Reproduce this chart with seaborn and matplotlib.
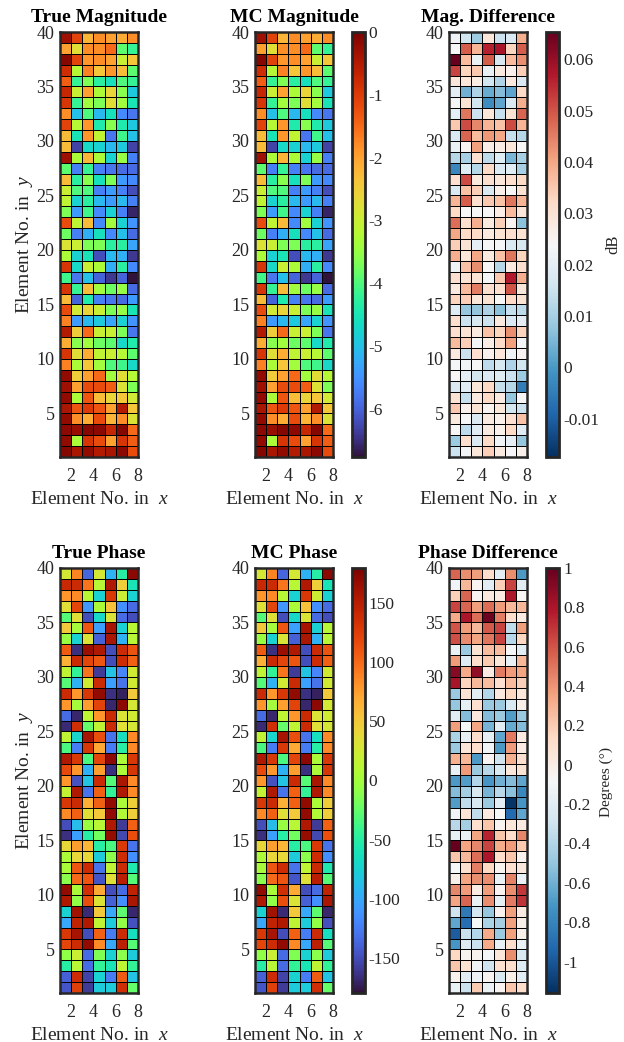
#%% import
import pandas as pd
import matplotlib
matplotlib.use('Agg')
import matplotlib.pyplot as plt
import seaborn as sns

#%% values, rows go from the top of the panel down
true_mag = [
    [-0.3, -1.1, -2.2, -1.8, -2.0, -2.1, -1.8],
    [-2.0, -2.7, -1.8, -1.8, -1.5, -3.9, -4.2],
    [-0.1, -1.1, -1.9, -1.8, -2.0, -3.0, -2.4],
    [-0.8, -3.2, -1.7, -2.4, -1.9, -2.3, -3.9],
    [-1.4, -4.2, -3.7, -4.3, -4.6, -4.0, -4.2],
    [-0.7, -3.0, -2.0, -3.3, -2.6, -3.6, -4.9],
    [-0.9, -4.2, -3.4, -3.7, -2.7, -3.4, -4.5],
    [-1.8, -5.0, -4.0, -5.1, -4.6, -5.6, -5.8],
    [-1.1, -3.2, -1.9, -4.4, -3.6, -4.4, -4.9],
    [-2.3, -4.5, -1.9, -3.1, -5.8, -4.1, -5.0],
    [-2.3, -6.3, -4.7, -4.8, -5.1, -4.9, -6.3],
    [-0.3, -3.3, -2.2, -3.3, -4.8, -3.5, -5.7],
    [-3.9, -5.7, -4.2, -5.7, -5.8, -5.9, -5.9],
    [-2.3, -4.3, -3.6, -4.6, -3.7, -5.4, -5.6],
    [-3.0, -4.0, -4.0, -5.7, -5.4, -5.7, -6.2],
    [-3.1, -4.8, -4.3, -5.1, -5.4, -5.1, -5.7],
    [-3.7, -5.4, -4.1, -5.6, -4.8, -5.7, -6.6],
    [-1.2, -3.1, -2.3, -5.6, -3.4, -4.8, -5.5],
    [-3.8, -5.7, -5.2, -4.6, -5.6, -5.0, -5.9],
    [-2.8, -3.0, -3.7, -3.7, -4.3, -4.3, -5.3],
    [-3.3, -4.8, -4.5, -6.2, -5.1, -5.2, -6.4],
    [-0.9, -4.7, -3.0, -3.3, -5.2, -4.3, -5.6],
    [-4.1, -5.8, -5.0, -6.0, -6.4, -6.0, -6.75],
    [-0.9, -4.2, -2.3, -3.4, -3.8, -3.5, -5.9],
    [-2.3, -6.0, -4.4, -5.7, -5.8, -5.9, -5.4],
    [-1.2, -2.9, -2.6, -3.0, -3.7, -3.5, -4.5],
    [-1.7, -5.4, -5.1, -4.9, -5.3, -4.8, -5.5],
    [-0.5, -2.5, -1.5, -3.0, -3.0, -3.7, -5.8],
    [-2.1, -3.6, -3.4, -3.8, -3.9, -4.7, -4.4],
    [-0.9, -2.7, -2.1, -3.1, -3.0, -3.2, -3.9],
    [-1.7, -3.3, -2.4, -3.4, -4.0, -4.1, -4.7],
    [-0.2, -2.5, -2.0, -1.5, -3.4, -2.7, -3.2],
    [-0.3, -2.0, -1.2, -1.2, -1.4, -2.8, -3.7],
    [-0.2, -3.3, -1.3, -2.3, -2.6, -2.4, -2.9],
    [-0.4, -1.3, -1.0, -1.3, -2.0, -0.5, -2.4],
    [-0.2, -1.8, -2.1, -1.2, -2.2, -1.8, -2.8],
    [-0.15, -0.25, -0.1, -0.15, -0.7, -0.1, -1.5],
    [-0.2, -3.3, -0.9, -1.2, -2.0, -0.9, -1.4],
    [-0.1, -0.4, -0.2, -0.5, -0.4, -0.15, -1.2],
]

# MC panels can't be told apart from the true ones at this resolution
mc_mag = true_mag

diff_mag = [
    [.022, .016, .009, .029, .015, .018, .039],
    [.024, .049, .038, .056, .058, .033, .049],
    [.065, .037, .021, .049, .017, .037, .043],
    [.052, .033, .035, .021, .028, .026, .034],
    [.029, .029, .027, .016, .011, .028, .018],
    [.020, .004, .011, .003, .006, .002, .032],
    [.023, .030, .016, -.002, .002, .018, .039],
    [.020, .046, .015, .029, .014, .030, .048],
    [.035, .051, .044, .038, .036, .051, .038],
    [.018, .048, .037, .042, .040, .014, .012],
    [.021, .025, .041, .027, .027, .029, .024],
    [.012, .010, .031, .013, .019, .005, .010],
    [-.003, .019, .012, .032, .018, .019, .010],
    [.031, .051, .028, .031, .029, .031, .032],
    [.018, .036, .034, .018, .026, .024, .030],
    [.038, .049, .031, .035, .036, .046, .038],
    [.032, .024, .024, .024, .027, .037, .029],
    [.047, .031, .039, .028, .034, .025, .007],
    [.040, .032, .032, .028, .030, .031, .030],
    [.034, .030, .020, .024, .023, .018, .017],
    [.039, .029, .040, .028, .036, .046, .033],
    [.022, .036, .043, .024, .012, .028, .031],
    [.031, .030, .030, .023, .035, .057, .039],
    [.028, .037, .045, .031, .031, .050, .029],
    [.033, .034, .029, .030, .024, .032, .030],
    [.019, .008, .008, .011, .007, .014, .013],
    [.031, .015, .017, .015, .028, .018, .020],
    [.031, .030, .028, .036, .033, .043, .033],
    [.037, .034, .023, .027, .032, .041, .023],
    [.028, .015, .031, .026, .029, .022, .025],
    [.023, .022, .024, .013, .017, .011, .016],
    [.024, .020, .016, .018, .019, .015, .009],
    [.018, .019, .029, .032, .014, .012, -.005],
    [.030, .014, .028, .032, .028, .008, .024],
    [.035, .026, .030, .025, .029, .016, .015],
    [.028, .024, .018, .028, .026, .031, .036],
    [.024, .013, .019, .028, .026, .032, .019],
    [.009, .031, .018, .032, .022, .020, .008],
    [.015, .023, .029, .034, .028, .023, .026],
]

true_phase = [
    [28, 88, -137, 28, -95, -50, 172],
    [142, 140, 95, 10, 155, 45, -60],
    [80, 85, 10, -75, 130, 22, -75],
    [35, 120, -110, 5, 55, -115, -135],
    [-30, 35, -150, -70, 30, -135, -150],
    [50, 0, 110, -105, 160, -75, 10],
    [-5, -75, 30, -140, 158, -95, 10],
    [108, -165, 165, 155, -150, 140, 112],
    [65, 140, 120, 110, -150, 138, 105],
    [15, -45, 95, -160, -85, -120, 25],
    [-30, -95, 25, 140, -105, -130, 25],
    [140, 80, 130, 170, -165, -172, 50],
    [80, 0, 75, 122, -170, 172, 28],
    [-135, -170, 15, 80, 140, 30, 25],
    [-168, 135, -25, 15, 140, 35, 28],
    [15, -72, 160, 115, -130, -65, 85],
    [-35, -125, 130, 70, -125, -50, 85],
    [155, 130, -35, 120, 172, 5, 130],
    [118, 80, -95, 75, -165, 5, 132],
    [80, -148, -85, 140, -30, 158, 85],
    [18, 155, -130, 105, -45, 155, 85],
    [130, 140, 65, 105, 170, 5, 45],
    [85, 105, 35, 50, 170, 8, 45],
    [-150, -90, -5, 10, 155, -160, 105],
    [-165, -105, -50, -20, 168, -152, 115],
    [40, 75, 62, -50, -35, 128, -130],
    [5, 40, 40, -80, -10, 138, -115],
    [3, 110, 138, -130, 15, 140, -55],
    [-10, 100, 110, -145, 35, 150, -30],
    [170, 3, 135, 70, -150, -135, 145],
    [155, -8, 115, 32, -140, -115, 158],
    [-75, 162, -168, 50, -100, -28, -170],
    [-100, 145, 155, 15, -80, -8, -148],
    [130, 160, -150, 105, -125, 140, -65],
    [120, 138, 170, 85, -100, 148, -30],
    [-8, 20, -135, -15, -75, -10, -80],
    [-50, 10, -135, -45, -60, 15, -45],
    [-140, 138, -155, -75, -125, 108, -85],
    [-145, 125, -160, -80, -80, 135, -25],
]

mc_phase = true_phase

diff_phase = [
    [.55, .42, .37, .12, -.2, .42, -.7],
    [-.12, .28, -.05, -.2, .18, .65, -.2],
    [.18, .55, -.05, .03, .02, .8, -.07],
    [.65, .55, .37, .52, .38, .28, .28],
    [.33, .8, .52, .98, .47, .12, .02],
    [.6, .38, .28, .58, .65, -.35, .37],
    [.62, .43, .35, .5, .65, -.38, .15],
    [-.15, -.48, .08, .25, .25, -.1, -.2],
    [.38, -.22, .12, .2, .05, -.17, .28],
    [.9, .33, .88, .02, .48, .38, .35],
    [.82, .16, .28, .25, .1, .26, .18],
    [-.48, .08, -.2, -.4, .03, .15, .05],
    [-.5, -.18, .1, -.48, -.48, -.25, -.02],
    [-.2, -.55, .03, -.55, -.48, -.68, -.48],
    [.37, -.08, .35, -.58, -.2, -.62, -.55],
    [-.42, -.18, .12, -.18, -.65, .48, .02],
    [-.48, .06, .12, -.12, -.7, .38, .02],
    [.3, .28, -.7, -.05, -.3, .3, .1],
    [-.15, .38, -.48, -.38, -.25, .05, .08],
    [-.7, -.68, -.4, -.72, -.6, -.55, -.65],
    [-.55, -.45, -.25, -.58, -.38, -.52, -.78],
    [-.68, -.35, -.25, -.48, -.2, -1.14, -.72],
    [-.12, .07, -.35, .02, -.08, -.92, -.65],
    [-.38, -.45, .1, .22, -.05, .05, .02],
    [-.18, -.15, .35, .75, .22, .12, .45],
    [1.0, .35, .45, .65, .32, .38, .2],
    [.22, .28, .52, .8, .12, .22, -.03],
    [-.08, .1, .47, .14, -.05, .1, .04],
    [-.02, .35, .42, .42, -.15, .46, -.15],
    [.45, .38, .02, .37, -.05, .42, .68],
    [.35, .55, -.15, .42, -.18, .48, .7],
    [-.3, -.85, -.28, -.5, -.03, .36, .02],
    [-.65, -.9, -.08, -.42, -.45, .36, -.02],
    [-.98, -.32, -.4, .33, -.48, .36, -.02],
    [-.72, -.22, -.32, .33, -.18, .12, -.15],
    [.14, -.04, -.04, -.1, .05, .42, -.25],
    [.22, .08, -.12, -.3, .1, .12, -.22],
    [-.03, -.2, -.14, -.05, -.25, -.02, -.2],
    [-.15, -.32, .2, -.15, -.05, .22, .12],
]

x_ticks = [2, 4, 6, 8]
y_ticks = [40, 35, 30, 25, 20, 15, 10, 5]
mag_cbar_ticks = [0, -1, -2, -3, -4, -5, -6]
diff_mag_cbar_ticks = [0.06, 0.05, 0.04, 0.03, 0.02, 0.01, 0, -0.01]
phase_cbar_ticks = [150, 100, 50, 0, -50, -100, -150]
diff_phase_cbar_ticks = [1, 0.8, 0.6, 0.4, 0.2, 0, -0.2, -0.4, -0.6, -0.8, -1]

#%% style
sns.set_theme(style='white')
plt.rcParams['font.family'] = ['Liberation Serif', 'DejaVu Serif']
plt.rcParams['mathtext.fontset'] = 'custom'
plt.rcParams['mathtext.it'] = 'Liberation Serif:italic'
plt.rcParams['mathtext.rm'] = 'Liberation Serif'

W, H = 624, 1042
DARK = '#262626'
fig = plt.figure(figsize=(W / 100, H / 100), dpi=100)


def px_axes(x0, y0, x1, y1):
    return fig.add_axes([x0 / W, 1 - y1 / H, (x1 - x0) / W, (y1 - y0) / H])


def panel(data, title, x0, y0, cmap, vmin, vmax, ylabel=False, cbar=None, cbar_ticks=None):
    ax = px_axes(x0, y0, x0 + 78, y0 + 425)
    df = pd.DataFrame(data)
    if cbar is None:
        sns.heatmap(df, ax=ax, cmap=cmap, vmin=vmin, vmax=vmax, cbar=False,
                    linewidths=0.5, linecolor='black')
    else:
        cax = px_axes(cbar, y0, cbar + 13, y0 + 425)
        sns.heatmap(df, ax=ax, cmap=cmap, vmin=vmin, vmax=vmax, cbar_ax=cax,
                    linewidths=0.5, linecolor='black')
        cax.set_yticks(cbar_ticks)
        cax.set_yticklabels([str(t) for t in cbar_ticks], fontsize=12.5, color=DARK)
        cax.tick_params(axis='y', direction='in', length=4, width=1, color=DARK, right=True, pad=3)
        cb = ax.collections[0].colorbar
        cb.outline.set_visible(True)
        cb.outline.set_linewidth(2)
        cb.outline.set_edgecolor(DARK)

    ax.set_xticks([v - 1 for v in x_ticks])
    ax.set_xticklabels(x_ticks, rotation=0, fontsize=13, color=DARK)
    ax.set_yticks([40 - v for v in y_ticks])
    ax.set_yticklabels(y_ticks, rotation=0, fontsize=13, color=DARK, va='center_baseline')
    ax.tick_params(axis='x', direction='in', length=3, width=1, color=DARK, bottom=True, pad=8)
    ax.tick_params(axis='y', direction='in', length=3, width=1, color=DARK, left=True, pad=4)
    for s in ax.spines.values():
        s.set_visible(True)
        s.set_linewidth(1.8)
        s.set_edgecolor(DARK)
    ax.set_title(title, fontsize=14, fontweight='bold', color='black', pad=7)
    ax.set_xlabel('Element No. in  $x$', fontsize=14, color=DARK, labelpad=4)
    if ylabel:
        ax.set_ylabel('Element No. in  $y$', fontsize=14, color=DARK, labelpad=1)
    return ax


#%% draw
top, bottom = 32, 568
panel(true_mag, 'True Magnitude', 60, top, 'turbo', -6.77, 0, ylabel=True)
panel(mc_mag, 'MC Magnitude', 255, top, 'turbo', -6.77, 0, cbar=351.5, cbar_ticks=mag_cbar_ticks)
panel(diff_mag, 'Mag. Difference', 449, top, 'RdBu_r', -0.0175, 0.0653, cbar=546,
      cbar_ticks=diff_mag_cbar_ticks)
panel(true_phase, 'True Phase', 60, bottom, 'turbo', -180, 180, ylabel=True)
panel(mc_phase, 'MC Phase', 255, bottom, 'turbo', -180, 180, cbar=351.5, cbar_ticks=phase_cbar_ticks)
panel(diff_phase, 'Phase Difference', 449, bottom, 'RdBu_r', -1.16, 1.0, cbar=546,
      cbar_ticks=diff_phase_cbar_ticks)

fig.text(613 / W, 1 - 244 / H, 'dB', rotation=90, fontsize=12, color=DARK, ha='center', va='center')
fig.text(606 / W, 1 - 782 / H, 'Degrees (°)', rotation=90, fontsize=11, color=DARK, ha='center', va='center')

fig.savefig('out.png', dpi=100)
